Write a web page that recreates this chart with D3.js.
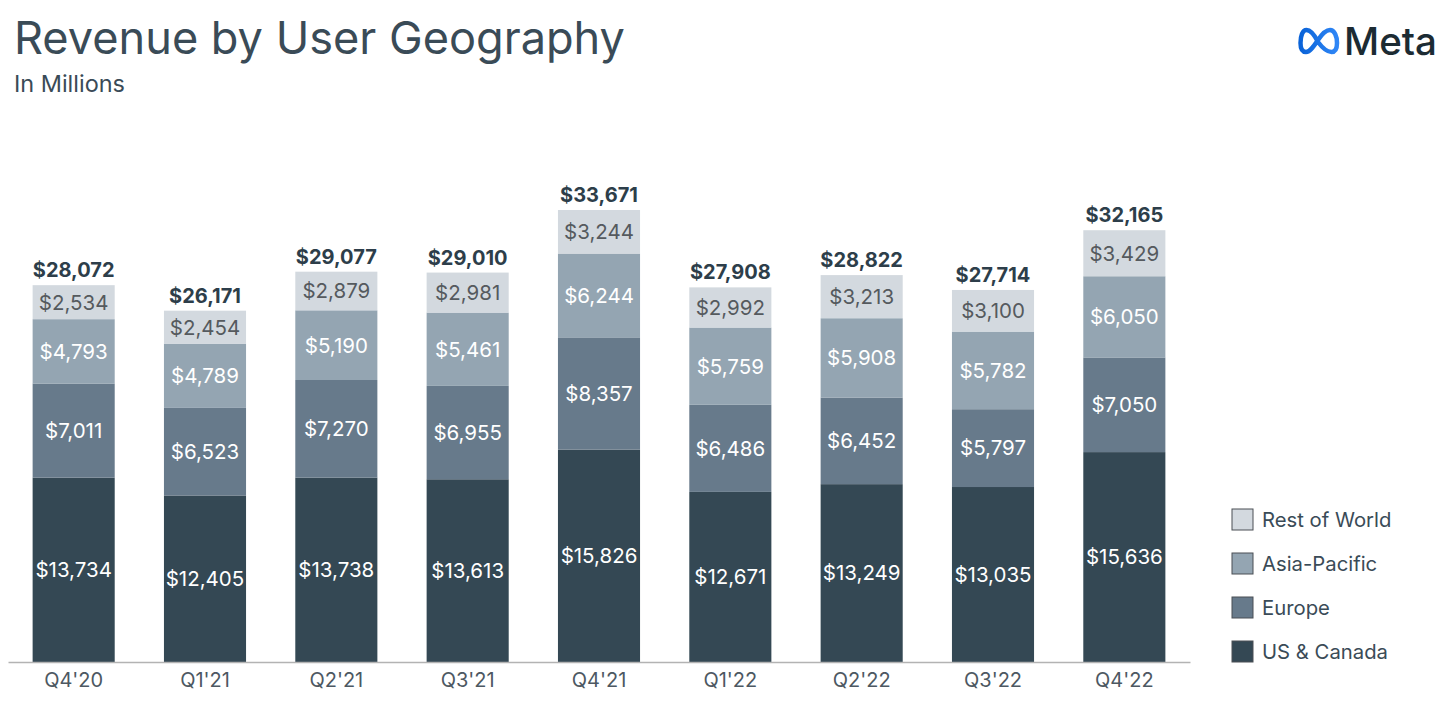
<!DOCTYPE html>
<html>
<head>
<meta charset="utf-8">
<script src="https://cdn.jsdelivr.net/npm/d3@7"></script>
<style>
  body { margin: 0; background: #fff; }
  svg { display: block; font-family: "Inter", "Open Sans", sans-serif; }
</style>
</head>
<body>
<svg id="chart" width="1455" height="711"></svg>
<script>
const quarters = ["Q4'20", "Q1'21", "Q2'21", "Q3'21", "Q4'21", "Q1'22", "Q2'22", "Q3'22", "Q4'22"];
const usCanada = [13734, 12405, 13738, 13613, 15826, 12671, 13249, 13035, 15636];
const europe = [7011, 6523, 7270, 6955, 8357, 6486, 6452, 5797, 7050];
const asiaPacific = [4793, 4789, 5190, 5461, 6244, 5759, 5908, 5782, 6050];
const restOfWorld = [2534, 2454, 2879, 2981, 3244, 2992, 3213, 3100, 3429];
const totals = [28072, 26171, 29077, 29010, 33671, 27908, 28822, 27714, 32165];

const seriesNames = ["US & Canada", "Europe", "Asia-Pacific", "Rest of World"];
const seriesColors = ["#344854", "#677a8b", "#94a5b2", "#d3d9df"];
const labelColors = ["#ffffff", "#ffffff", "#ffffff", "#555a5e"];

const rows = quarters.map((q, i) => ({
  q: q,
  "US & Canada": usCanada[i],
  "Europe": europe[i],
  "Asia-Pacific": asiaPacific[i],
  "Rest of World": restOfWorld[i],
  total: totals[i],
}));

const svg = d3.select("#chart");
const area = { left: 8, right: 1190, baseline: 662, top: 210 };

// title block, stretched to the width it has in the reference
function fitText(sel, width) {
  const w = sel.node().getComputedTextLength();
  const fs = parseFloat(sel.attr("font-size"));
  sel.attr("font-size", (fs * width / w).toFixed(2));
}
const title = svg.append("text")
  .attr("x", 14).attr("y", 54)
  .attr("font-size", 42)
  .attr("fill", "#3a4b57")
  .text("Revenue by User Geography");
fitText(title, 611);

const sub = svg.append("text")
  .attr("x", 14).attr("y", 92)
  .attr("font-size", 21)
  .attr("fill", "#3a4b57")
  .text("In Millions");
fitText(sub, 111);

// Meta logo
const grad = svg.append("defs").append("linearGradient")
  .attr("id", "metaBlue").attr("x1", "0").attr("x2", "1");
grad.append("stop").attr("offset", "0").attr("stop-color", "#0a63d8");
grad.append("stop").attr("offset", "1").attr("stop-color", "#2f86f6");
svg.append("path")
  .attr("transform", "translate(1299,28)")
  .attr("d", "M19 14 C15 6 11 2 7.5 2 C3.5 2 1.5 8 1.5 15 C1.5 21 3.5 24 7 24 C11 24 15 18 19 12 C23 6 26.5 2 31 2 C35.5 2 38 8.5 38 15 C38 21 36 24 32.5 24 C28 24 23.5 20 19 14 Z")
  .attr("fill", "none")
  .attr("stroke", "url(#metaBlue)")
  .attr("stroke-width", 4.5);
const metaTxt = svg.append("text")
  .attr("x", 1344).attr("y", 55)
  .attr("font-size", 34)
  .attr("font-weight", 500)
  .attr("fill", "#1c2b33")
  .text("Meta");
fitText(metaTxt, 93);

// scales
const x = d3.scaleBand()
  .domain(quarters)
  .range([area.left, area.right])
  .paddingInner(0.375)
  .paddingOuter(0.1875);

const y = d3.scaleLinear()
  .domain([0, d3.max(totals)])
  .range([area.baseline, area.top]);

const stack = d3.stack().keys(seriesNames)(rows);

const layers = svg.append("g")
  .selectAll("g")
  .data(stack)
  .join("g")
  .attr("fill", (d, i) => seriesColors[i]);

layers.selectAll("rect")
  .data((d) => d)
  .join("rect")
  .attr("x", (d) => x(d.data.q))
  .attr("y", (d) => y(d[1]))
  .attr("width", x.bandwidth())
  .attr("height", (d) => y(d[0]) - y(d[1]));

// segment labels
stack.forEach((layer, i) => {
  svg.append("g")
    .selectAll("text")
    .data(layer)
    .join("text")
    .attr("x", (d) => x(d.data.q) + x.bandwidth() / 2)
    .attr("y", (d) => (y(d[0]) + y(d[1])) / 2)
    .attr("dy", "0.36em")
    .attr("text-anchor", "middle")
    .attr("font-size", 20.5)
    .attr("fill", labelColors[i])
    .text((d) => "$" + d3.format(",")(d[1] - d[0]));
});

// totals
svg.append("g")
  .selectAll("text")
  .data(rows)
  .join("text")
  .attr("x", (d) => x(d.q) + x.bandwidth() / 2)
  .attr("y", (d) => y(d.total) - 8)
  .attr("text-anchor", "middle")
  .attr("font-size", 20)
  .attr("font-weight", 700)
  .attr("fill", "#2d3e4a")
  .text((d) => "$" + d3.format(",")(d.total));

// x axis
const axisX = svg.append("g")
  .attr("transform", `translate(0, ${area.baseline})`)
  .call(d3.axisBottom(x).tickSize(0).tickPadding(11).tickSizeOuter(0));
axisX.select(".domain").attr("stroke", "#b3b3b3").attr("stroke-width", 1.3);
axisX.selectAll("text")
  .attr("font-size", 20)
  .attr("font-family", "Inter, sans-serif")
  .attr("fill", "#4d5862");

// legend
const legendOrder = ["Rest of World", "Asia-Pacific", "Europe", "US & Canada"];
const legend = svg.append("g")
  .selectAll("g")
  .data(legendOrder)
  .join("g")
  .attr("transform", (d, i) => `translate(1232, ${509 + i * 44})`);
legend.append("rect")
  .attr("width", 21).attr("height", 21)
  .attr("fill", (d) => seriesColors[seriesNames.indexOf(d)])
  .attr("stroke", "#4a4f54").attr("stroke-width", 1);
legend.append("text")
  .attr("x", 30).attr("y", 10.5)
  .attr("dy", "0.36em")
  .attr("font-size", 20.3)
  .attr("fill", "#3a4b57")
  .text((d) => d);
</script>
</body>
</html>
